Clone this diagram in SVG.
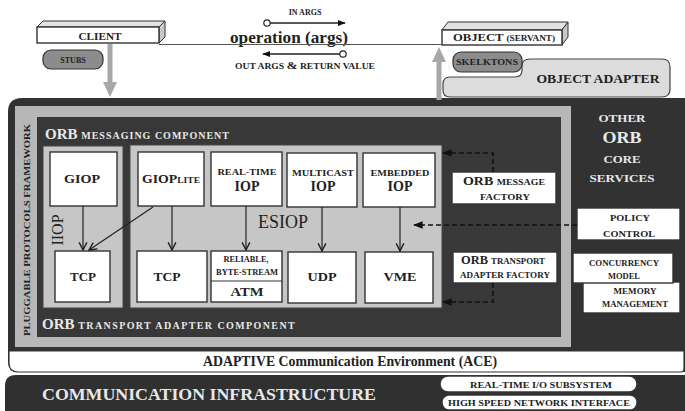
<svg xmlns="http://www.w3.org/2000/svg" width="685" height="411" viewBox="0 0 685 411">
<defs>
<marker id="open" viewBox="0 0 10 10" refX="9" refY="5" markerWidth="8" markerHeight="8" orient="auto"><path d="M1,1 L9,5 L1,9" fill="none" stroke="#222" stroke-width="1.5"/></marker>
<marker id="fill" viewBox="0 0 10 10" refX="9" refY="5" markerWidth="6" markerHeight="6" orient="auto"><path d="M0,1 L10,5 L0,9 z" fill="#111"/></marker>
</defs>
<style>
text{font-family:"Liberation Serif","DejaVu Serif","Times New Roman",serif;font-weight:bold;fill:#222}
.c{text-anchor:middle}
.w{fill:#e8e8e8}
.box{fill:#fff;stroke:#333;stroke-width:1.4}
.lt{fill:#c6c6c6;stroke:#444;stroke-width:1}
.pill{fill:#8c8c8c;stroke:#333;stroke-width:1.2}
.conn{stroke:#222;stroke-width:1.2;fill:none}
.dash{stroke:#111;stroke-width:1.6;fill:none;stroke-dasharray:5 3}
.garrow{stroke:#a8a8a8;stroke-width:5;fill:none}
.gh{fill:#a8a8a8}
</style>

<g id="orb-core-frame">
<path d="M8,112 Q8,98 22,98 H685 V372 H18 Q8,372 8,362 Z" fill="#323232"/>
<rect x="15" y="106" width="556" height="241" fill="#b7b7b7"/>
<text transform="translate(30,230) rotate(-90)" class="c" font-size="8.5" textLength="212" lengthAdjust="spacingAndGlyphs">PLUGGABLE PROTOCOLS FRAMEWORK</text>
<rect x="37" y="117" width="524" height="220" fill="#383838"/>
<text x="45" y="139" class="w" font-size="15">ORB <tspan font-size="10" letter-spacing="1">MESSAGING COMPONENT</tspan></text>
<text x="42" y="329" class="w" font-size="15">ORB <tspan font-size="10" letter-spacing="1.4">TRANSPORT ADAPTER COMPONENT</tspan></text>
</g>

<g id="ace">
<path d="M9,351 H684 V369 Q684,372 681,372 H18 Q9,372 9,363 Z" fill="#fff" stroke="#333" stroke-width="1.2"/>
<text x="350" y="366" class="c" font-size="14" textLength="294" lengthAdjust="spacingAndGlyphs">ADAPTIVE Communication Environment (ACE)</text>
</g>

<g id="comm-infra">
<path d="M5,386 Q5,375 16,375 H685 V411 H5 Z" fill="#303030"/>
<text x="42" y="400" class="w" font-size="17" textLength="334" lengthAdjust="spacingAndGlyphs">COMMUNICATION INFRASTRUCTURE</text>
</g>
<g id="rt-io">
<rect x="440" y="376" width="197" height="16" rx="8" class="box"/>
<text x="541" y="388" class="c" font-size="8.5" textLength="142" lengthAdjust="spacingAndGlyphs">REAL-TIME I/O SUBSYSTEM</text>
</g>
<g id="hsni">
<rect x="442" y="395" width="195" height="15" rx="7" class="box"/>
<text x="539" y="406" class="c" font-size="8.5" textLength="182" lengthAdjust="spacingAndGlyphs">HIGH SPEED NETWORK INTERFACE</text>
</g>

<g id="client">
<polygon points="37,27 43,21 165,21 159,27" fill="#e2e2e2" stroke="#333"/>
<polygon points="159,27 165,21 165,37 159,43" fill="#c8c8c8" stroke="#333"/>
<rect x="37" y="27" width="122" height="16" class="box"/>
<text x="100" y="40" class="c" font-size="11" textLength="43" lengthAdjust="spacingAndGlyphs">CLIENT</text>
</g>
<g id="stubs">
<rect x="43" y="50" width="60" height="19" rx="8" class="pill"/>
<text x="73" y="63" class="c" font-size="8">STUBS</text>
</g>
<g id="object">
<polygon points="442,30 448,22 568,22 562,30" fill="#e2e2e2" stroke="#333"/>
<polygon points="562,30 568,22 568,37 562,45" fill="#c8c8c8" stroke="#333"/>
<rect x="442" y="30" width="120" height="15" class="box"/>
<text x="504" y="41" class="c" font-size="11" textLength="102" lengthAdjust="spacingAndGlyphs">OBJECT <tspan font-size="8">(SERVANT)</tspan></text>
</g>
<g id="object-adapter">
<path d="M450,97 Q443,97 443,90 V84 Q443,77 450,77 H515 Q522,77 522,70 V66 Q522,59 530,59 H662 Q670,59 670,67 V89 Q670,97 662,97 Z" fill="#dcdcdc" stroke="#444" stroke-width="1.2"/>
<text x="598" y="83" class="c" font-size="13.5" textLength="123" lengthAdjust="spacingAndGlyphs">OBJECT ADAPTER</text>
</g>
<g id="skelktons">
<rect x="453" y="52" width="69" height="20" rx="8" class="pill"/>
<text x="487" y="65" class="c" font-size="9" textLength="62" lengthAdjust="spacingAndGlyphs">SKELKTONS</text>
</g>
<g id="operation">
<text x="289" y="43" class="c" font-size="17.5" textLength="118" lengthAdjust="spacingAndGlyphs">operation (args)</text>
<text x="305" y="15" class="c" font-size="8">IN ARGS</text>
<text x="305" y="69" class="c" font-size="8" textLength="140" lengthAdjust="spacingAndGlyphs">OUT ARGS <tspan font-size="11">&amp;</tspan> RETURN VALUE</text>
</g>

<g id="iiop">
<rect x="43" y="146" width="80" height="162" class="lt"/>
<text transform="translate(63,230) rotate(-90)" class="c" font-size="16" style="font-weight:normal">IIOP</text>
</g>
<g id="esiop">
<rect x="130" y="145" width="312" height="163" class="lt"/>
<text x="258" y="228" font-size="19.5" style="font-weight:normal" textLength="50" lengthAdjust="spacingAndGlyphs">ESIOP</text>
</g>

<g id="giop"><rect x="50" y="152" width="67" height="54" class="box"/><text x="82" y="183" class="c" font-size="13" textLength="36" lengthAdjust="spacingAndGlyphs">GIOP</text></g>
<g id="tcp1"><rect x="55" y="251" width="55" height="51" class="box"/><text x="83" y="281" class="c" font-size="13" textLength="26" lengthAdjust="spacingAndGlyphs">TCP</text></g>
<g id="gioplite"><rect x="138" y="152" width="66" height="54" class="box"/><text x="171" y="183" class="c" font-size="13" textLength="58" lengthAdjust="spacingAndGlyphs">GIOP<tspan font-size="9">LITE</tspan></text></g>
<g id="rtiop"><rect x="211" y="152" width="71" height="54" class="box"/><text x="247" y="175" class="c" font-size="8.5" textLength="59" lengthAdjust="spacingAndGlyphs">REAL-TIME</text><text x="247" y="191" class="c" font-size="14">IOP</text></g>
<g id="mciop"><rect x="287" y="153" width="70" height="54" class="box"/><text x="323" y="176" class="c" font-size="8.5" textLength="62" lengthAdjust="spacingAndGlyphs">MULTICAST</text><text x="323" y="191" class="c" font-size="14">IOP</text></g>
<g id="emiop"><rect x="363" y="153" width="72" height="54" class="box"/><text x="400" y="176" class="c" font-size="8.5" textLength="59" lengthAdjust="spacingAndGlyphs">EMBEDDED</text><text x="400" y="191" class="c" font-size="14">IOP</text></g>
<g id="tcp2"><rect x="137" y="251" width="70" height="51" class="box"/><text x="167" y="281" class="c" font-size="13" textLength="27" lengthAdjust="spacingAndGlyphs">TCP</text></g>
<g id="atm"><rect x="211" y="251" width="71" height="51" class="box"/><line x1="211" y1="281" x2="282" y2="281" stroke="#333" stroke-width="1.2"/><text x="246" y="262" class="c" font-size="7.5" textLength="45" lengthAdjust="spacingAndGlyphs">RELIABLE,</text><text x="247" y="275" class="c" font-size="7.5" textLength="62" lengthAdjust="spacingAndGlyphs">BYTE-STREAM</text><text x="247" y="296" class="c" font-size="13" textLength="33" lengthAdjust="spacingAndGlyphs">ATM</text></g>
<g id="udp"><rect x="288" y="252" width="68" height="51" class="box"/><text x="322" y="281" class="c" font-size="13" textLength="29" lengthAdjust="spacingAndGlyphs">UDP</text></g>
<g id="vme"><rect x="365" y="252" width="68" height="51" class="box"/><text x="400" y="281" class="c" font-size="13" textLength="33" lengthAdjust="spacingAndGlyphs">VME</text></g>

<g id="msg-factory"><rect x="452" y="172" width="104" height="32" class="box"/><text x="504" y="185" class="c" font-size="12" textLength="82" lengthAdjust="spacingAndGlyphs">ORB <tspan font-size="8.5">MESSAGE</tspan></text><text x="505" y="200" class="c" font-size="8.5" textLength="50" lengthAdjust="spacingAndGlyphs">FACTORY</text></g>
<g id="ta-factory"><rect x="453" y="252" width="104" height="31" class="box"/><text x="503" y="264" class="c" font-size="12" textLength="84" lengthAdjust="spacingAndGlyphs">ORB <tspan font-size="8.5">TRANSPORT</tspan></text><text x="505" y="278" class="c" font-size="8.5" textLength="90" lengthAdjust="spacingAndGlyphs">ADAPTER FACTORY</text></g>

<g id="other-services">
<text x="622" y="122" class="c w" font-size="10" textLength="47" lengthAdjust="spacingAndGlyphs">OTHER</text>
<text x="622" y="143" class="c w" font-size="17" textLength="39" lengthAdjust="spacingAndGlyphs">ORB</text>
<text x="622" y="163" class="c w" font-size="10" textLength="37" lengthAdjust="spacingAndGlyphs">CORE</text>
<text x="622" y="182" class="c w" font-size="10.5" textLength="65" lengthAdjust="spacingAndGlyphs">SERVICES</text>
</g>
<g id="policy"><rect x="577" y="208" width="103" height="32" class="box"/><text x="630" y="221" class="c" font-size="9" textLength="40" lengthAdjust="spacingAndGlyphs">POLICY</text><text x="629" y="237" class="c" font-size="9" textLength="52" lengthAdjust="spacingAndGlyphs">CONTROL</text></g>
<g id="memory"><rect x="583" y="282" width="97" height="31" class="box"/><text x="635" y="294" class="c" font-size="8.5" textLength="43" lengthAdjust="spacingAndGlyphs">MEMORY</text><text x="635" y="307" class="c" font-size="8.5" textLength="66" lengthAdjust="spacingAndGlyphs">MANAGEMENT</text></g>
<g id="concurrency"><rect x="573" y="253" width="100" height="30" class="box"/><text x="624" y="266" class="c" font-size="8.5" textLength="70" lengthAdjust="spacingAndGlyphs">CONCURRENCY</text><text x="624" y="279" class="c" font-size="8.5" textLength="32" lengthAdjust="spacingAndGlyphs">MODEL</text></g>

<g id="connectors">
<line x1="159" y1="44.5" x2="442" y2="44.5" stroke="#555" stroke-width="1"/>
<line x1="110" y1="44" x2="110" y2="84" class="garrow"/><polygon points="103,82 117,82 110,97" class="gh"/>
<line x1="439" y1="100" x2="439" y2="60" class="garrow"/><polygon points="432,62 446,62 439,47" class="gh"/>
<line x1="270" y1="23" x2="345" y2="23" stroke="#222" stroke-width="1.3" marker-end="url(#fill)"/>
<circle cx="267" cy="23" r="3.2" fill="#fff" stroke="#222" stroke-width="1.2"/>
<line x1="340" y1="54" x2="263" y2="54" stroke="#222" stroke-width="1.3" marker-end="url(#fill)"/>
<circle cx="343" cy="54" r="3.2" fill="#fff" stroke="#222" stroke-width="1.2"/>
<line x1="83" y1="206" x2="83" y2="250" class="conn" marker-end="url(#open)"/>
<line x1="153" y1="207" x2="89" y2="250" class="conn" marker-end="url(#open)"/>
<line x1="172" y1="206" x2="172" y2="250" class="conn" marker-end="url(#open)"/>
<line x1="246" y1="206" x2="246" y2="250" class="conn" marker-end="url(#open)"/>
<line x1="322" y1="207" x2="322" y2="251" class="conn" marker-end="url(#open)"/>
<line x1="400" y1="207" x2="400" y2="251" class="conn" marker-end="url(#open)"/>
<polyline points="493,172 493,153 443,153" class="dash" marker-end="url(#fill)"/>
<polyline points="577,225 414,225" class="dash" marker-end="url(#fill)"/>
<polyline points="493,283 493,302 443,302" class="dash" marker-end="url(#fill)"/>
</g>
</svg>
